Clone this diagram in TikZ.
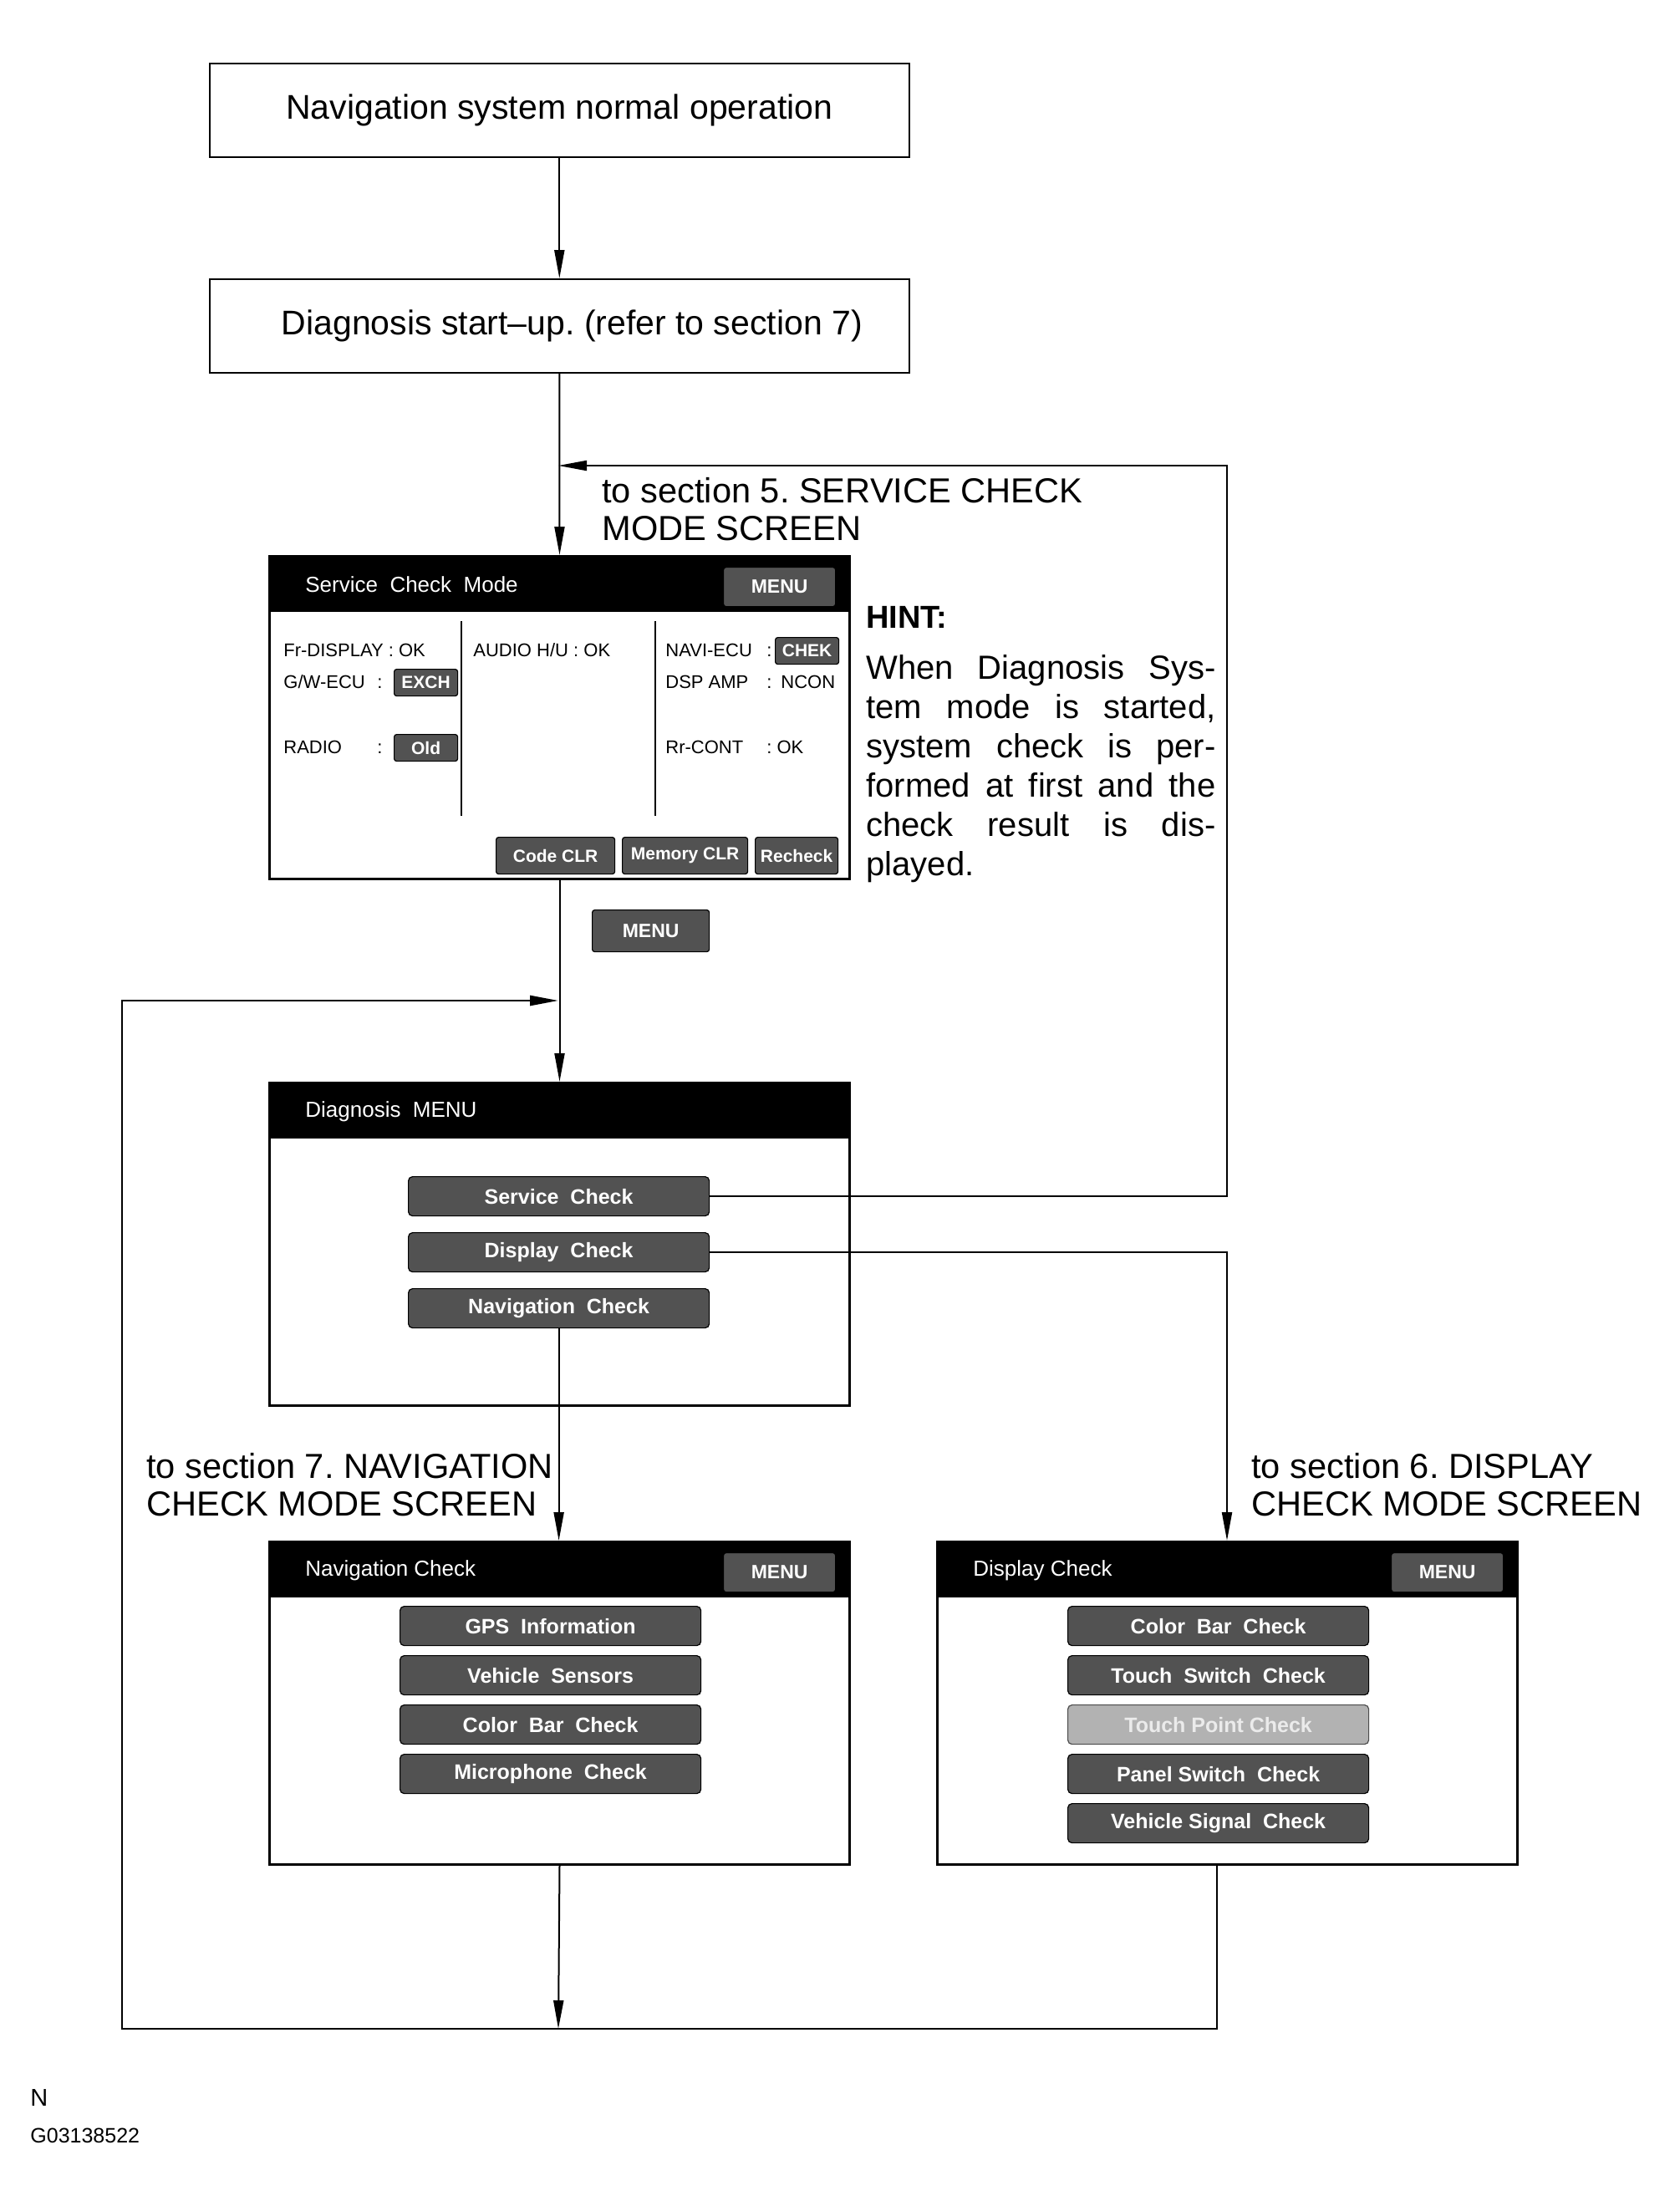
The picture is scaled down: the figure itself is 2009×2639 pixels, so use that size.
\documentclass[tikz,border=0pt]{standalone}
\usepackage{fontspec}
\setmainfont{Liberation Sans}
\usetikzlibrary{arrows.meta}
\frenchspacing

\tikzset{
  flowbox/.style={draw, line width=0.8pt, anchor=north west, inner sep=0pt, minimum width=418.5pt, minimum height=56pt, font=\fontsize{20.5}{24}\selectfont},
  scrframe/.style={draw, line width=1.5pt, anchor=north west, inner sep=0pt, minimum width=347pt, minimum height=193pt},
  scrbar/.style={fill=black, anchor=north west, inner sep=0pt, minimum width=347pt, minimum height=34pt},
  scrtitle/.style={anchor=base west, inner sep=0pt, text=white, font=\fontsize{13}{15}\selectfont},
  scrtext/.style={anchor=base west, inner sep=0pt, font=\fontsize{11}{13}\selectfont},
  softkey/.style={draw=black, line width=0.6pt, fill=black!68, rounded corners=2.5pt, anchor=north west, inner sep=0pt, minimum width=180pt, minimum height=23.5pt, text=white, font=\fontsize{12.5}{14}\selectfont\bfseries},
  badge/.style={softkey, minimum width=38pt, minimum height=16pt, rounded corners=1.5pt, font=\fontsize{10.5}{12}\selectfont\bfseries},
  menubadge/.style={badge, minimum width=67pt, minimum height=23.5pt, font=\fontsize{11.5}{13}\selectfont\bfseries},
  sectlabel/.style={anchor=base west, inner sep=0pt, font=\fontsize{20.8}{22.5}\selectfont},
  flowline/.style={line width=1pt, -{Triangle[length=17pt,width=6pt]}},
}

\begin{document}
\begin{tikzpicture}[x=0.5pt,y=-0.5pt]
\fill[white] (0,0) rectangle (2009,2639);
\useasboundingbox (0,0) rectangle (2009,2639);
% Drawing boxes
\node[flowbox] (normal) at (250,75) {Navigation system normal operation};
\node[flowbox] (start) at (250,333) {\hspace*{15pt}Diagnosis start--up. (refer to section 7)};
% Done with boxes; drawing service check screen
\node[scrbar] (svcbar) at (321,664) {};
\node[scrframe] (svcscr) at (321,664) {};
\node[scrtitle] (svctitle) at (365,708) {Service~ Check~ Mode};
\node[menubadge] (svcmenu) at (865,678) {MENU};
\draw[line width=1pt] (552,743) -- (552,976);
\draw[line width=1pt] (784,743) -- (784,976);
% Line 1: Fr-DISPLAY, AUDIO H/U, NAVI-ECU
\node[scrtext] (frdisp) at (339,785) {Fr-DISPLAY : OK};
\node[scrtext] (audio) at (566,785) {AUDIO H/U : OK};
\node[scrtext] (navi) at (796,785) {NAVI-ECU};
\node[scrtext] (navicol) at (917,785) {:};
\node[badge] (navitag) at (927,762) {CHEK};
% Line 2: G/W-ECU, DSP AMP
\node[scrtext] (gwecu) at (339,823) {G/W-ECU};
\node[scrtext] (gwcol) at (451,823) {:};
\node[badge] (gwtag) at (471,800) {EXCH};
\node[scrtext] (dsp) at (796,823) {DSP AMP};
\node[scrtext] (dspcol) at (917,823) {:};
\node[scrtext] (dspval) at (934,823) {NCON};
% Line 3: RADIO, Rr-CONT
\node[scrtext] (radio) at (339,901) {RADIO};
\node[scrtext] (radiocol) at (451,901) {:};
\node[badge] (radiotag) at (471,878) {Old};
\node[scrtext] (rrcont) at (796,901) {Rr-CONT};
\node[scrtext] (rrval) at (917,901) {: OK};
% Line 4: bottom keys
\node[badge, minimum width=71pt, minimum height=22pt] (codeclr) at (593,1001) {Code CLR};
\node[badge, minimum width=75pt, minimum height=22pt] (memclr) at (744,1001) {Memory CLR};
\node[badge, minimum width=49.5pt, minimum height=22pt] (recheck) at (903,1001) {Recheck};
% Hint beside the screen
\node[anchor=base west, inner sep=0pt, font=\fontsize{19}{22}\selectfont\bfseries] (hint) at (1036,751) {HINT:};
\node[anchor=base west, inner sep=0pt, font=\fontsize{20}{23.5}\selectfont] (hinttext) at (1036,812) {\begin{tabular}[t]{@{}l@{}}
\makebox[209pt][s]{When Diagnosis Sys-}\\
\makebox[209pt][s]{tem mode is started,}\\
\makebox[209pt][s]{system check is per-}\\
\makebox[209pt][s]{formed at first and the}\\
\makebox[209pt][s]{check result is dis-}\\
played.\end{tabular}};
\node[menubadge, minimum width=70pt, minimum height=25pt] (menukey) at (708,1088) {MENU};
% Done with service check screen; drawing diagnosis menu
\node[scrbar] (diagbar) at (321,1294) {};
\node[scrframe] (diagscr) at (321,1294) {};
\node[scrtitle] (diagtitle) at (365,1336) {Diagnosis~ MENU};
\node[softkey] (svckey) at (488,1407) {Service~ Check};
\node[softkey] (dispkey) at (488,1474) {Display~ Check};
\node[softkey] (navkey) at (488,1541) {Navigation~ Check};
% Done with diagnosis menu; drawing check screens
\node[scrbar] (navbar) at (321,1843) {};
\node[scrframe] (navscr) at (321,1843) {};
\node[scrtitle] (navtitle) at (365,1885) {Navigation Check};
\node[menubadge] (navmenu) at (865,1857) {MENU};
\node[softkey] (gpskey) at (478,1921) {GPS~ Information};
\node[softkey] (senskey) at (478,1980) {Vehicle~ Sensors};
\node[softkey] (colkey) at (478,2039) {Color~ Bar~ Check};
\node[softkey] (mickey) at (478,2098) {Microphone~ Check};
\node[scrbar] (dispbar) at (1120,1843) {};
\node[scrframe] (dispscr) at (1120,1843) {};
\node[scrtitle] (disptitle) at (1164,1885) {Display Check};
\node[menubadge] (dispmenu) at (1664,1857) {MENU};
\node[softkey] (barkey) at (1277,1921) {Color~ Bar~ Check};
\node[softkey] (tswkey) at (1277,1980) {Touch~ Switch~ Check};
\node[softkey, fill=black!30, draw=black!70, text=white!92!black] (tptkey) at (1277,2039) {Touch Point Check};
\node[softkey] (pswkey) at (1277,2098) {Panel Switch~ Check};
\node[softkey] (vsgkey) at (1277,2157) {Vehicle Signal~ Check};
% Done with screens; drawing connectors
\coordinate (svcloop) at (1468,557);
\coordinate (svcin) at (668,557);
\coordinate (dispin) at (1468,1843);
\coordinate (dispout) at (1456,2229);
\coordinate (join) at (668,2427);
\coordinate (lbot) at (146,2427);
\coordinate (ltop) at (146,1197);
\coordinate (loopin) at (668,1197);
\draw[flowline] (normal.south) -- (start.north);
\draw[flowline] (start.south) -- (svcscr.north);
\draw[flowline] (svckey.east) -| (svcloop) -- (svcin);
\draw[flowline] (svcscr.south) -- (diagscr.north);
\draw[flowline] (dispkey.east) -| (dispin);
\draw[flowline] (navkey.south) -- (navkey.south |- navscr.north);
\draw[flowline] (navscr.south) -- (join);
\draw[flowline, line width=1.3pt] (dispout) |- (lbot) -- (ltop) -- (loopin);
% Done with connectors; drawing labels
\node[sectlabel] (sect5) at (720,601) {\begin{tabular}[t]{@{}l@{}}to section 5. SERVICE CHECK\\MODE SCREEN\end{tabular}};
\node[sectlabel] (sect7) at (175,1768) {\begin{tabular}[t]{@{}l@{}}to section 7. NAVIGATION\\CHECK MODE SCREEN\end{tabular}};
\node[sectlabel] (sect6) at (1497,1768) {\begin{tabular}[t]{@{}l@{}}to section 6. DISPLAY\\CHECK MODE SCREEN\end{tabular}};
\node[anchor=base west, inner sep=0pt, font=\fontsize{14.5}{16}\selectfont] (mark) at (36,2519) {N};
\node[anchor=base west, inner sep=0pt, font=\fontsize{12.5}{14}\selectfont] (figno) at (36,2563) {G03138522};
\end{tikzpicture}
\end{document}
